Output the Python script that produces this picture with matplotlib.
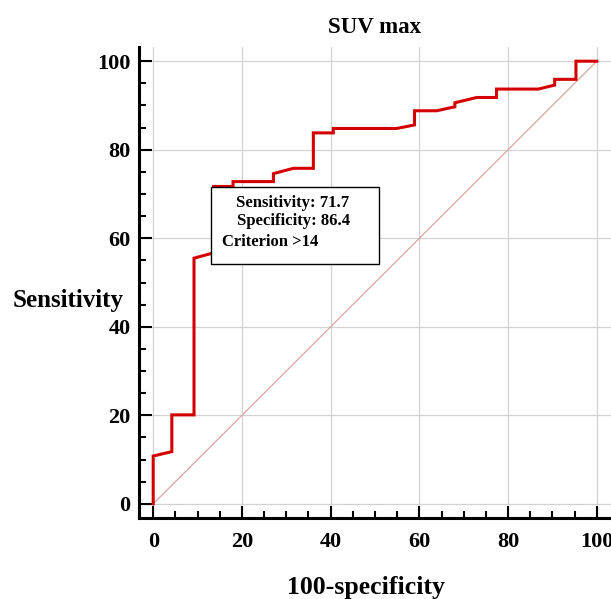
import matplotlib
matplotlib.use("Agg")
from matplotlib import pyplot as plt
from matplotlib.patches import Rectangle

# ROC curve points (100-specificity, sensitivity)
fpr = [0, 0, 4.2, 4.2, 9.2, 9.2, 13.6, 13.6, 18.0, 18.0, 27.1, 27.1, 31.6, 36.1, 36.1,
       40.6, 40.6, 54.9, 58.9, 58.9, 63.9, 68.0, 68.0, 72.9, 77.4, 77.4, 86.8, 90.5,
       90.5, 95.3, 95.3, 100]
tpr = [0, 10.8, 11.8, 20.1, 20.1, 55.5, 56.7, 71.7, 71.7, 72.8, 72.8, 74.6, 75.8, 75.8, 83.8,
       83.8, 84.8, 84.8, 85.6, 88.8, 88.8, 89.7, 90.6, 91.8, 91.8, 93.7, 93.7, 94.6,
       95.9, 95.9, 100, 100]
ticks = [0, 20, 40, 60, 80, 100]
box_lines = ["Sensitivity: 71.7", "Specificity: 86.4", "Criterion >14"]

serif = ["Liberation Serif", "DejaVu Serif"]

fig = plt.figure(figsize=(6.11, 5.99), dpi=100)
ax = fig.add_axes([0.2275, 0.1352, 0.7725, 0.7863])

ax.plot([0, 100], [0, 100], color="#d8a4a4", lw=0.9, zorder=2)
ax.plot(fpr, tpr, color="#d40000", lw=2.2, zorder=3, solid_joinstyle="miter")

ax.set_xlim(-3.2, 103.2)
ax.set_ylim(-3.2, 103.2)
ax.set_xticks(ticks)
ax.set_yticks(ticks)
ax.set_xticks(range(0, 101, 5), minor=True)
ax.set_yticks(range(0, 101, 5), minor=True)
ax.grid(True, which="major", color="#d2d2d2", lw=0.9, zorder=0)

for s in ["top", "right"]:
    ax.spines[s].set_visible(False)
for s in ["left", "bottom"]:
    ax.spines[s].set_linewidth(2.2)
ax.tick_params(which="major", direction="in", length=9, width=1.5)
ax.tick_params(axis="x", which="major", pad=10)
ax.tick_params(axis="y", which="major", pad=6)
ax.tick_params(which="minor", direction="in", length=5, width=1.5)
for lab in ax.get_xticklabels() + ax.get_yticklabels():
    lab.set_fontfamily(serif)
    lab.set_fontweight("bold")
    lab.set_fontsize(16)

ax.set_title("SUV max", fontfamily=serif, fontweight="bold", fontsize=16.5, pad=10)
ax.set_xlabel("100-specificity", fontfamily=serif, fontweight="bold", fontsize=18.5)
ax.xaxis.set_label_coords(0.481, -0.124)
fig.text(0.021, 0.498, "Sensitivity", fontfamily=serif, fontweight="bold", fontsize=18,
         ha="left", va="center")

# criterion box
ax.add_patch(Rectangle((13.1, 54.2), 37.9, 17.4, facecolor="white", edgecolor="black",
                       lw=1.0, zorder=4))
ax.text(18.7, 68.0, box_lines[0], fontfamily=serif, fontweight="bold", fontsize=12,
        va="center", zorder=5)
ax.text(18.9, 63.9, box_lines[1], fontfamily=serif, fontweight="bold", fontsize=12,
        va="center", zorder=5)
ax.text(15.5, 59.2, box_lines[2], fontfamily=serif, fontweight="bold", fontsize=12,
        va="center", zorder=5)

fig.savefig("out.png", dpi=100)
